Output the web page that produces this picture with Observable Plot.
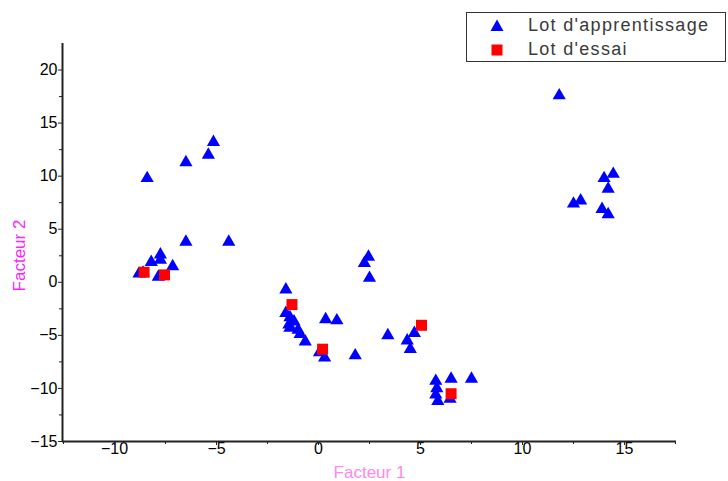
<!DOCTYPE html>
<html>
<head>
<meta charset="utf-8">
<script src="https://cdn.jsdelivr.net/npm/d3@7"></script>
<script src="https://cdn.jsdelivr.net/npm/@observablehq/plot@0.6"></script>
<style>
  html, body { margin: 0; padding: 0; background: #fff; }
  #wrap { position: relative; width: 728px; height: 481px; font-family: "Liberation Sans", Arial, sans-serif; }
  #legend { position: absolute; left: 466px; top: 12px; width: 260px; height: 50px; border: 1px solid #333; background: #fff; box-sizing: border-box; }
  .row { position: absolute; left: 0; display: flex; align-items: center; font-size: 18px; letter-spacing: 1.3px; color: #3a3a3a; }
  .row svg { margin-left: 22px; margin-right: 23px; }
</style>
</head>
<body>
<div id="wrap">
  <div id="chart"></div>
  <div id="legend">
    <div class="row" style="top:2px"><svg width="16" height="16" viewBox="-8 -8 16 16"><path d="M0,-6.5L6.5,5L-6.5,5Z" fill="#0000ff"/></svg><span>Lot d'apprentissage</span></div>
    <div class="row" style="top:26px"><svg width="16" height="16" viewBox="-8 -8 16 16"><rect x="-5.5" y="-5.5" width="11" height="11" fill="#ff0000"/></svg><span>Lot d'essai</span></div>
  </div>
</div>
<script>
const trainX = [-8.4, -6.5, -5.4, -5.15, -6.5, -4.4, -7.75, -7.75, -8.2, -7.15, -8.6, -7.85, -8.8,
  -1.6, -1.6, -1.4, -1.45, -1.4, -1.0, -0.9, -0.65, -1.2, 0.35, 0.9, 0.05, 0.3,
  2.45, 2.25, 2.5, 3.4, 4.7, 4.35, 4.5, 1.8,
  5.75, 5.8, 6.5, 7.5, 5.75, 5.85, 6.45,
  11.8, 14.45, 14.0, 14.2, 12.85, 12.5, 13.9, 14.2];
const trainY = [9.8, 11.3, 12.0, 13.2, 3.8, 3.8, 2.6, 2.1, 1.9, 1.5, 0.9, 0.5, 0.8,
  -0.7, -2.9, -3.3, -4.0, -4.3, -4.5, -4.9, -5.6, -3.7, -3.5, -3.6, -6.6, -7.1,
  2.4, 1.8, 0.4, -5.0, -4.8, -5.5, -6.3, -6.9,
  -9.3, -10.0, -9.1, -9.1, -10.6, -11.2, -11.0,
  17.6, 10.2, 9.8, 8.8, 7.7, 7.4, 6.9, 6.4];
const testX = [-8.55, -7.55, -1.3, 0.2, 5.05, 6.5];
const testY = [0.95, 0.7, -2.1, -6.3, -4.05, -10.5];
const xTicks = [-10, -5, 0, 5, 10, 15];
const xMinor = [-12.5, -7.5, -2.5, 2.5, 7.5, 12.5, 17.5];
const yTicks = [-15, -10, -5, 0, 5, 10, 15, 20];
const yMinor = [-12.5, -7.5, -2.5, 2.5, 7.5, 12.5, 17.5];
const xDomain = [-12.55, 17.55];
const yDomain = [-15, 22.5];

const train = trainX.map((x, i) => ({x, y: trainY[i]}));
const test = testX.map((x, i) => ({x, y: testY[i]}));

const chart = Plot.plot({
  width: 728,
  height: 481,
  marginLeft: 62,
  marginRight: 52,
  marginTop: 43,
  marginBottom: 40,
  style: {fontFamily: '"Liberation Sans", Arial, sans-serif', fontSize: "16px", background: "#fff", color: "#000"},
  x: {domain: xDomain},
  y: {domain: yDomain},
  marks: [
    Plot.axisX({ticks: xTicks, tickSize: 0, tickPadding: 1, label: null, fill: "#000", fontSize: 16}),
    Plot.axisX({ticks: xTicks, tickSize: 4, text: null, label: null, stroke: "#222"}),
    Plot.axisX({ticks: xMinor, tickSize: 3, text: null, label: null, stroke: "#222"}),
    Plot.axisY({ticks: yTicks, tickSize: 4, tickPadding: 1, label: null, stroke: "#222", fill: "#000", fontSize: 16}),
    Plot.axisY({ticks: yMinor, tickSize: 3, text: null, label: null, stroke: "#222"}),
    Plot.ruleY([yDomain[0]], {stroke: "#222", strokeWidth: 2}),
    Plot.ruleX([xDomain[0]], {stroke: "#222", strokeWidth: 2}),
    Plot.dot(train, {x: "x", y: "y", symbol: "triangle", r: 4.9, fill: "#0000ff", stroke: "none"}),
    Plot.dot(test, {x: "x", y: "y", symbol: "square", r: 6.2, fill: "#ff0000", stroke: "none"}),
    Plot.text(["Facteur 1"], {frameAnchor: "bottom", dy: 36, fill: "#ff88ee", fontSize: 17, text: d => d}),
    Plot.text(["Facteur 2"], {frameAnchor: "left", textAnchor: "middle", dx: -43, dy: 13, rotate: -90, fill: "#ff22ff", fontSize: 17, text: d => d})
  ]
});
document.getElementById("chart").appendChild(chart);
</script>
</body>
</html>
